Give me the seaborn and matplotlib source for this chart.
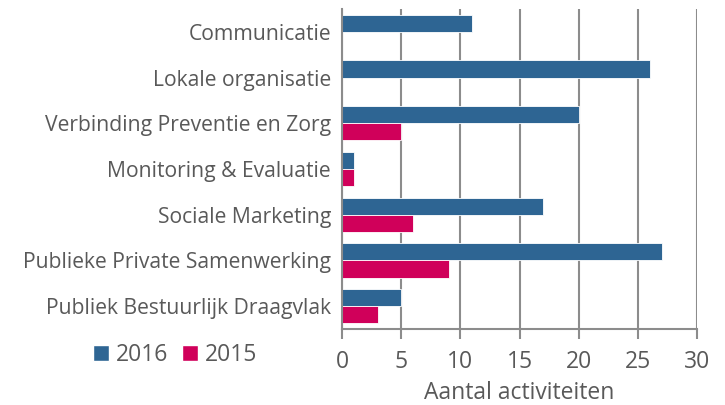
import pandas as pd
import matplotlib
matplotlib.use("Agg")
import matplotlib.pyplot as plt
import seaborn as sns
from matplotlib.patches import Patch

# Data
categories = [
    "Communicatie",
    "Lokale organisatie",
    "Verbinding Preventie en Zorg",
    "Monitoring & Evaluatie",
    "Sociale Marketing",
    "Publieke Private Samenwerking",
    "Publiek Bestuurlijk Draagvlak",
]
values_2016 = [11, 26, 20, 1, 17, 27, 5]
values_2015 = [0, 0, 5, 1, 6, 9, 3]
years = ["2016", "2015"]
colors = {"2016": "#2E6593", "2015": "#D0005A"}

df = pd.DataFrame({
    "Categorie": categories * 2,
    "Jaar": ["2016"] * len(categories) + ["2015"] * len(categories),
    "Aantal": values_2016 + values_2015,
})

sns.set_style("white")
plt.rcParams["font.family"] = ["Open Sans", "DejaVu Sans"]
text_color = "#595959"
grid_color = "#8C8C8C"

fig = plt.figure(figsize=(7.25, 4.05), dpi=100)
ax = fig.add_axes([342 / 725, 76 / 405, 355 / 725, 320 / 405])

sns.barplot(data=df, y="Categorie", x="Aantal", hue="Jaar", hue_order=years,
            order=categories, palette=colors, saturation=1, orient="h", width=0.75,
            edgecolor="white", linewidth=0.6, ax=ax, legend=False)

ax.set_xlim(0, 30)
ax.set_ylim(6.5, -0.5)
ax.set_xticks(range(0, 31, 5))
ax.xaxis.grid(True, color=grid_color, linewidth=1.5)
ax.set_axisbelow(True)

for side in ["top", "right"]:
    ax.spines[side].set_visible(False)
for side in ["left", "bottom"]:
    ax.spines[side].set_color(grid_color)
    ax.spines[side].set_linewidth(1.5)

ax.tick_params(axis="x", direction="out", length=7, width=1.5, color=grid_color,
               labelsize=16.5, labelcolor=text_color, pad=8, bottom=True)
ax.tick_params(axis="y", length=0, labelsize=15.2, labelcolor=text_color, pad=8)

ax.set_xlabel("Aantal activiteiten", fontsize=16.5, color=text_color, labelpad=5)
ax.set_ylabel("")

handles = [Patch(facecolor=colors[y], label=y) for y in years]
fig.legend(handles=handles, loc="center", bbox_to_anchor=(175 / 725, 1 - 355 / 405),
           ncol=2, frameon=False, fontsize=16.5, labelcolor=text_color,
           handlelength=0.7, handleheight=0.7, handletextpad=0.3, columnspacing=0.6)

fig.savefig("out.png", dpi=100)
